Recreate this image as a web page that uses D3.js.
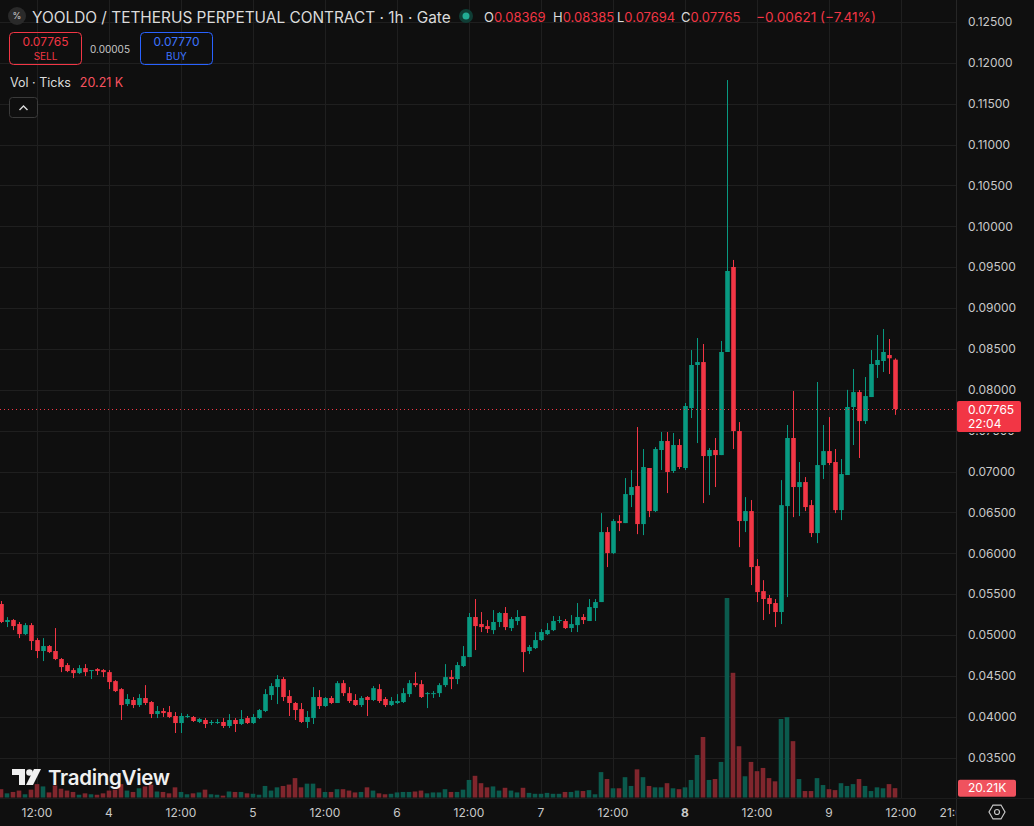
<!DOCTYPE html>
<html>
<head>
<meta charset="utf-8">
<script src="https://cdn.jsdelivr.net/npm/d3@7"></script>
<style>
  html, body { margin: 0; padding: 0; background: #0f0f0f; }
  svg { display: block; font-family: Inter, "Noto Sans", sans-serif; }
</style>
</head>
<body>
<div class="container"></div>
<script>
// chart size
var width  = 1034;
var height = 826;

// hourly candles, first one = 3rd 06:00, last one = 9th 11:00
var open  = [0.05380,0.05160,0.05184,0.05135,0.05012,0.05122,0.04939,0.04805,0.04866,0.04805,
             0.04707,0.04633,0.04572,0.04535,0.04596,0.04560,0.04584,0.04572,0.04547,0.04437,
             0.04339,0.04156,0.04206,0.04144,0.04230,0.04181,0.04034,0.04071,0.04058,0.04010,
             0.03924,0.03998,0.03998,0.03937,0.03961,0.03924,0.03924,0.03937,0.03888,0.03961,
             0.03912,0.03985,0.03924,0.03985,0.04071,0.04266,0.04364,0.04462,0.04254,0.04169,
             0.04095,0.03937,0.03985,0.04242,0.04132,0.04230,0.04169,0.04412,0.04290,0.04206,
             0.04144,0.04242,0.04206,0.04339,0.04218,0.04144,0.04169,0.04181,0.04278,0.04412,
             0.04400,0.04278,0.04278,0.04290,0.04388,0.04486,0.04462,0.04621,0.04731,0.05221,
             0.05135,0.05110,0.05061,0.05160,0.05270,0.05086,0.05172,0.05233,0.04805,0.04841,
             0.04939,0.05012,0.05061,0.05172,0.05172,0.05086,0.05122,0.05221,0.05172,0.05331,
             0.05404,0.06260,0.06003,0.06395,0.06370,0.06713,0.06823,0.06358,0.07044,0.06517,
             0.07264,0.07374,0.07007,0.07325,0.07044,0.07778,0.08304,0.08340,0.07190,0.07264,
             0.07202,0.08463,0.09503,0.07496,0.06395,0.06517,0.05844,0.05538,0.05453,0.05392,
             0.05282,0.06578,0.07411,0.06811,0.06872,0.06590,0.06248,0.07080,0.07251,0.07117,
             0.06529,0.06958,0.07790,0.07973,0.07618,0.07912,0.08304,0.08353,0.08426,0.08369];
var high  = [0.05417,0.05220,0.05196,0.05160,0.05147,0.05147,0.04963,0.04963,0.04878,0.05086,
             0.04719,0.04658,0.04596,0.04633,0.04645,0.04572,0.04596,0.04584,0.04572,0.04449,
             0.04351,0.04278,0.04242,0.04278,0.04388,0.04193,0.04132,0.04107,0.04132,0.04058,
             0.04046,0.04034,0.04010,0.03985,0.03985,0.03961,0.03973,0.03985,0.04034,0.03985,
             0.04083,0.04010,0.04034,0.04095,0.04339,0.04412,0.04511,0.04486,0.04327,0.04181,
             0.04169,0.04071,0.04364,0.04327,0.04242,0.04254,0.04437,0.04449,0.04364,0.04278,
             0.04254,0.04254,0.04376,0.04400,0.04242,0.04242,0.04278,0.04351,0.04449,0.04547,
             0.04449,0.04303,0.04315,0.04412,0.04645,0.04572,0.04670,0.04866,0.05270,0.05441,
             0.05282,0.05184,0.05306,0.05282,0.05343,0.05221,0.05306,0.05233,0.04878,0.05037,
             0.05074,0.05147,0.05233,0.05233,0.05196,0.05245,0.05392,0.05257,0.05441,0.05441,
             0.06492,0.06321,0.06419,0.06468,0.06921,0.07019,0.07545,0.07276,0.07044,0.07300,
             0.07484,0.07484,0.07472,0.07398,0.07839,0.08487,0.08634,0.08561,0.07288,0.07411,
             0.08598,0.11790,0.09589,0.07606,0.06688,0.06652,0.05930,0.05672,0.05490,0.05441,
             0.06896,0.07570,0.07986,0.07117,0.06933,0.06652,0.08096,0.07570,0.07667,0.07276,
             0.07154,0.08000,0.08255,0.07998,0.08157,0.08487,0.08671,0.08744,0.08622,0.08385];
var low   = [0.05147,0.05098,0.05061,0.04963,0.05000,0.04817,0.04719,0.04682,0.04780,0.04694,
             0.04547,0.04547,0.04474,0.04523,0.04498,0.04462,0.04511,0.04486,0.04339,0.04303,
             0.03961,0.04132,0.04107,0.04120,0.04144,0.03985,0.03985,0.03998,0.03985,0.03802,
             0.03802,0.03985,0.03937,0.03924,0.03863,0.03900,0.03912,0.03863,0.03863,0.03814,
             0.03900,0.03912,0.03912,0.03973,0.04058,0.04206,0.04156,0.04193,0.04010,0.03961,
             0.03924,0.03863,0.03912,0.04095,0.04120,0.04156,0.04169,0.04254,0.04169,0.04132,
             0.04120,0.04010,0.04193,0.04169,0.04120,0.04132,0.04156,0.04169,0.04242,0.04364,
             0.04230,0.04107,0.04230,0.04242,0.04364,0.04339,0.04400,0.04609,0.04731,0.04817,
             0.05037,0.05025,0.05012,0.05098,0.05061,0.05049,0.05122,0.04547,0.04768,0.04829,
             0.04927,0.05000,0.05049,0.05147,0.05074,0.05037,0.05037,0.05135,0.05172,0.05172,
             0.05404,0.05832,0.05991,0.06272,0.06370,0.06566,0.06235,0.06223,0.06443,0.06505,
             0.07019,0.06737,0.06983,0.07031,0.07019,0.07655,0.07349,0.06615,0.06713,0.06811,
             0.07202,0.08463,0.07276,0.06076,0.06260,0.05612,0.05404,0.05184,0.05257,0.05098,
             0.05135,0.05465,0.06443,0.06456,0.06517,0.06199,0.06125,0.06909,0.07080,0.06492,
             0.06407,0.06958,0.07325,0.07166,0.07582,0.07912,0.08145,0.08218,0.08194,0.07694];
var close = [0.05160,0.05184,0.05110,0.05012,0.05122,0.04927,0.04805,0.04866,0.04792,0.04707,
             0.04609,0.04560,0.04535,0.04596,0.04547,0.04572,0.04560,0.04547,0.04425,0.04315,
             0.04144,0.04218,0.04144,0.04230,0.04169,0.04034,0.04071,0.04046,0.03998,0.03924,
             0.04010,0.04010,0.03949,0.03973,0.03912,0.03937,0.03937,0.03888,0.03961,0.03912,
             0.03973,0.03924,0.03998,0.04083,0.04278,0.04376,0.04462,0.04242,0.04169,0.04083,
             0.03937,0.03998,0.04242,0.04132,0.04230,0.04169,0.04412,0.04290,0.04193,0.04144,
             0.04230,0.04206,0.04351,0.04193,0.04144,0.04193,0.04193,0.04290,0.04412,0.04388,
             0.04242,0.04290,0.04290,0.04388,0.04486,0.04462,0.04633,0.04743,0.05221,0.05110,
             0.05098,0.05074,0.05160,0.05270,0.05098,0.05196,0.05221,0.04792,0.04854,0.04939,
             0.05037,0.05061,0.05172,0.05184,0.05086,0.05135,0.05221,0.05184,0.05343,0.05404,
             0.06260,0.06003,0.06395,0.06370,0.06725,0.06811,0.06358,0.07056,0.06517,0.07276,
             0.07374,0.06995,0.07325,0.07056,0.07802,0.08304,0.08340,0.07190,0.07264,0.07202,
             0.08463,0.09454,0.07496,0.06395,0.06517,0.05832,0.05526,0.05441,0.05380,0.05282,
             0.06590,0.07411,0.06811,0.06872,0.06566,0.06248,0.07080,0.07251,0.07105,0.06529,
             0.06970,0.07790,0.07973,0.07618,0.07924,0.08316,0.08365,0.08463,0.08386,0.07765];
// volume in thousands of ticks
var volume = [18,9,12,15,7,17,29,24,11,26, 19,15,12,6,9,7,6,9,15,17,
              29,15,12,20,24,28,13,12,9,22, 12,7,9,11,17,7,6,4,13,12,
              12,9,8,6,25,15,22,25,28,42, 22,30,30,20,12,12,18,18,15,11,
              12,22,15,9,7,8,11,12,12,13, 15,9,11,11,18,12,12,17,38,47,
              31,22,24,15,21,15,11,21,10,8, 8,10,8,8,12,12,15,14,16,7,
              55,40,20,20,44,25,61,44,25,22, 22,31,20,18,22,38,92,131,38,40,
              77,432,270,111,46,77,57,64,42,35, 170,174,122,40,14,14,42,27,18,16,
              31,25,29,40,25,14,22,20,29,20.21];

var priceTicks = d3.range(0.035, 0.12501, 0.005);
var timeTicks = ["12:00","4","12:00","5","12:00","6","12:00","7","12:00","8","12:00","9","12:00","21:00"];

var startTime = new Date(2025, 5, 3, 6);
var candles = open.map(function(o, i) {
  return { t: d3.timeHour.offset(startTime, i), o: o, h: high[i], l: low[i], c: close[i], v: volume[i] };
});
var last = candles[candles.length - 1];
var prev = candles[candles.length - 2];

var upColor = "#089981", downColor = "#f23645";
var upVol = "#0b5a4d", downVol = "#80262d";

var svg = d3.select(".container").append("svg")
  .attr("width", width)
  .attr("height", height);

svg.append("rect").attr("width", width).attr("height", height).attr("fill", "#0f0f0f");

// scales - pane is 0..956 wide, price axis to the right
var plotRight = 956;
var x = d3.scaleTime()
  .domain([candles[0].t, last.t])
  .range([1, 895]);
var y = d3.scaleLinear().domain([0.035, 0.125]).range([757.7, 22]);
var yVol = d3.scaleLinear().domain([0, d3.max(volume)]).range([797.5, 598]);

var pane = svg.append("g");
pane.append("clipPath").attr("id", "paneClip")
  .append("rect").attr("x", 0).attr("y", 0).attr("width", plotRight).attr("height", 798);

// grid
var tickTimes = d3.timeHour.every(12).range(d3.timeHour.offset(startTime, 6), d3.timeHour.offset(last.t, 2));
tickTimes.push(d3.timeHour.offset(last.t, 10));
pane.append("g").selectAll("line").data(tickTimes.slice(0, -1)).enter().append("line")
  .attr("x1", function(d) { return Math.round(x(d)) + 0.5; })
  .attr("x2", function(d) { return Math.round(x(d)) + 0.5; })
  .attr("y1", 0).attr("y2", 798)
  .attr("stroke", "#1f1f1f");
pane.append("g").selectAll("line").data(priceTicks).enter().append("line")
  .attr("x1", 0).attr("x2", plotRight)
  .attr("y1", function(d) { return Math.round(y(d)) + 0.5; })
  .attr("y2", function(d) { return Math.round(y(d)) + 0.5; })
  .attr("stroke", "#1f1f1f");

var marks = pane.append("g").attr("clip-path", "url(#paneClip)");
var bw = 4.6;

// volume bars first so candles sit on top
marks.append("g").selectAll("rect").data(candles).enter().append("rect")
  .attr("x", function(d) { return x(d.t) - bw / 2; })
  .attr("width", bw)
  .attr("y", function(d) { return yVol(d.v); })
  .attr("height", function(d) { return yVol(0) - yVol(d.v); })
  .attr("fill", function(d) { return d.c >= d.o ? upVol : downVol; });

// wicks
marks.append("g").selectAll("line").data(candles).enter().append("line")
  .attr("x1", function(d) { return Math.round(x(d.t)) + 0.5; })
  .attr("x2", function(d) { return Math.round(x(d.t)) + 0.5; })
  .attr("y1", function(d) { return y(d.h); })
  .attr("y2", function(d) { return y(d.l); })
  .attr("stroke", function(d) { return d.c >= d.o ? upColor : downColor; })
  .attr("stroke-width", 1);

// bodies
marks.append("g").selectAll("rect").data(candles).enter().append("rect")
  .attr("x", function(d) { return Math.round(x(d.t)) + 0.5 - bw / 2; })
  .attr("width", bw)
  .attr("y", function(d) { return y(Math.max(d.o, d.c)); })
  .attr("height", function(d) { return Math.max(1, y(Math.min(d.o, d.c)) - y(Math.max(d.o, d.c))); })
  .attr("fill", function(d) { return d.c >= d.o ? upColor : downColor; });

// last price dotted line
pane.append("line")
  .attr("x1", 0).attr("x2", plotRight)
  .attr("y1", Math.round(y(last.c)) + 0.5).attr("y2", Math.round(y(last.c)) + 0.5)
  .attr("stroke", downColor).attr("stroke-width", 1).attr("stroke-dasharray", "1,3");

// price axis
svg.append("line").attr("x1", plotRight + 0.5).attr("x2", plotRight + 0.5)
  .attr("y1", 0).attr("y2", height).attr("stroke", "#262626");
svg.append("line").attr("x1", 0).attr("x2", width)
  .attr("y1", 798.5).attr("y2", 798.5).attr("stroke", "#1c1c1c");

// tick labels, the one under the last price box is cut off like in TradingView
svg.append("clipPath").attr("id", "axisClip")
  .append("path").attr("d", "M957,0 H1034 V401 H957 Z M957,433 H1034 V826 H957 Z");
svg.append("g").attr("clip-path", "url(#axisClip)")
  .selectAll("text").data(priceTicks).enter().append("text")
  .attr("x", 968)
  .attr("y", function(d) { return y(d); })
  .attr("dy", "0.35em")
  .attr("fill", "#c8c8c8")
  .style("font-size", "12px")
  .text(function(d) { return d.toFixed(5); });

// last price label
var lp = svg.append("g");
lp.append("rect").attr("x", 957).attr("y", 401).attr("width", 64).attr("height", 31)
  .attr("rx", 2).attr("fill", downColor);
lp.append("text").attr("x", 968).attr("y", 414).attr("fill", "#fff").style("font-size", "12px").text(last.c.toFixed(5));
lp.append("text").attr("x", 968).attr("y", 428).attr("fill", "#fff").style("font-size", "12px").text("22:04");

// volume label
var vl = svg.append("g");
vl.append("rect").attr("x", 958).attr("y", yVol(last.v) - 8.5).attr("width", 58).attr("height", 17)
  .attr("rx", 2).attr("fill", "#f0525e");
vl.append("text").attr("x", 968).attr("y", yVol(last.v)).attr("dy", "0.35em").attr("fill", "#fff")
  .style("font-size", "12px").text(last.v.toFixed(2) + "K");

// time axis labels
var timeAxis = svg.append("g");
timeAxis.append("clipPath").attr("id", "timeClip")
  .append("rect").attr("x", 0).attr("y", 799).attr("width", plotRight).attr("height", 27);
timeAxis.attr("clip-path", "url(#timeClip)")
  .selectAll("text").data(tickTimes).enter().append("text")
  .attr("x", function(d) { return x(d); })
  .attr("y", 817)
  .attr("text-anchor", "middle")
  .attr("fill", "#c8c8c8")
  .style("font-size", "12px")
  .style("font-weight", function(d, i) { return timeTicks[i] == "8" ? "bold" : "normal"; })
  .text(function(d, i) { return timeTicks[i]; });

// settings icon
var gear = svg.append("g").attr("transform", "translate(997,812)");
gear.append("path")
  .attr("d", d3.range(6).map(function(k) {
    var a = Math.PI / 3 * k;
    return (k ? "L" : "M") + (8 * Math.cos(a)).toFixed(2) + "," + (8 * Math.sin(a)).toFixed(2);
  }).join("") + "Z")
  .attr("fill", "none").attr("stroke", "#c8c8c8").attr("stroke-width", 1.2);
gear.append("circle").attr("r", 2.5).attr("fill", "none").attr("stroke", "#c8c8c8").attr("stroke-width", 1.2);

// header
var head = svg.append("g");
head.append("circle").attr("cx", 17).attr("cy", 16).attr("r", 9).attr("fill", "#2a2a2a");
head.append("text").attr("x", 17).attr("y", 16).attr("dy", "0.35em").attr("text-anchor", "middle")
  .attr("fill", "#cfcfcf").style("font-size", "9px").text("%");
head.append("text").attr("x", 32).attr("y", 22.5).attr("fill", "#dbdbdb").style("font-size", "15.4px")
  .text("YOOLDO / TETHERUS PERPETUAL CONTRACT · 1h · Gate");
head.append("circle").attr("cx", 466).attr("cy", 16).attr("r", 7).attr("fill", "#0f3d35");
head.append("circle").attr("cx", 466).attr("cy", 16).attr("r", 3.5).attr("fill", "#22ab94");

// O H L C groups, placed where TradingView puts them
var ohlcX = [484, 553, 617, 681];
[["O", last.o.toFixed(5)], ["H", last.h.toFixed(5)], ["L", last.l.toFixed(5)], ["C", last.c.toFixed(5)]]
  .forEach(function(p, i) {
    var t = head.append("text").attr("x", ohlcX[i]).attr("y", 22).style("font-size", "13px");
    t.append("tspan").attr("fill", "#dbdbdb").text(p[0]);
    t.append("tspan").attr("fill", downColor).text(p[1]);
  });
// change against the previous close
var chg = last.c - prev.c;
head.append("text").attr("x", 756).attr("y", 22).style("font-size", "13.6px").attr("fill", downColor)
  .text("\u2212" + Math.abs(chg).toFixed(5) + " (\u2212" + Math.abs(chg / prev.c * 100).toFixed(2) + "%)");

// sell / buy boxes
head.append("rect").attr("x", 9.5).attr("y", 32.5).attr("width", 72).attr("height", 32).attr("rx", 4)
  .attr("fill", "none").attr("stroke", "#f23645");
head.append("text").attr("x", 45.5).attr("y", 46).attr("text-anchor", "middle").attr("fill", "#f23645")
  .style("font-size", "12px").text(last.c.toFixed(5));
head.append("text").attr("x", 45.5).attr("y", 60).attr("text-anchor", "middle").attr("fill", "#f23645")
  .style("font-size", "10px").text("SELL");
head.append("text").attr("x", 110).attr("y", 53).attr("text-anchor", "middle").attr("fill", "#c8c8c8")
  .style("font-size", "10px").text("0.00005");
head.append("rect").attr("x", 140.5).attr("y", 32.5).attr("width", 72).attr("height", 32).attr("rx", 4)
  .attr("fill", "none").attr("stroke", "#2962ff");
head.append("text").attr("x", 176.5).attr("y", 46).attr("text-anchor", "middle").attr("fill", "#3d74ff")
  .style("font-size", "12px").text("0.07770");
head.append("text").attr("x", 176.5).attr("y", 60).attr("text-anchor", "middle").attr("fill", "#3d74ff")
  .style("font-size", "10px").text("BUY");

var volLeg = head.append("text").attr("x", 10).attr("y", 87).style("font-size", "12.5px");
volLeg.append("tspan").attr("fill", "#dbdbdb").text("Vol · Ticks");
volLeg.append("tspan").attr("dx", 9).attr("fill", "#f7525f").text(last.v.toFixed(2) + " K");

head.append("rect").attr("x", 9.5).attr("y", 97.5).attr("width", 28).attr("height", 20).attr("rx", 3)
  .attr("fill", "#0f0f0f").attr("stroke", "#3a3a3a");
head.append("path").attr("d", "M19.5,110 L23.5,106 L27.5,110").attr("fill", "none")
  .attr("stroke", "#dbdbdb").attr("stroke-width", 1.4);

// TradingView watermark
var logo = svg.append("g").attr("fill", "#f0f0f0");
logo.append("path").attr("d", "M12,769 H25 V785 H19 V775 H12 Z");
logo.append("circle").attr("cx", 29.5).attr("cy", 772.5).attr("r", 3.3);
logo.append("path").attr("d", "M34,769 H41 L33,785 H26 Z");
logo.append("text").attr("x", 48).attr("y", 785).style("font-size", "20.5px").style("font-weight", "600")
  .style("letter-spacing", "-0.3px").text("TradingView");
</script>
</body>
</html>
